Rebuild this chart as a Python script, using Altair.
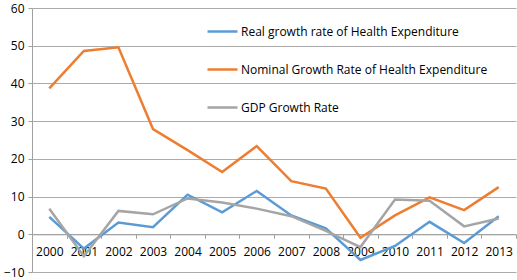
import altair as alt
import pandas as pd

years = [str(y) for y in range(2000, 2014)]
real = [4.6, -3.8, 3.1, 1.9, 10.5, 5.8, 11.5, 5.0, 1.6, -6.8, -3.1, 3.3, -2.3, 4.8]
nominal = [38.7, 48.6, 49.6, 27.9, 22.3, 16.5, 23.4, 14.1, 12.1, -0.9, 5.0, 9.8, 6.4, 12.5]
gdp = [6.8, -5.8, 6.2, 5.3, 9.5, 8.4, 6.8, 4.8, 0.9, -3.4, 9.2, 8.9, 2.1, 4.2]

series_names = [
    "Real growth rate of Health Expenditure",
    "Nominal Growth Rate of Health Expenditure",
    "GDP Growth Rate",
]
series_colors = ["#5B9BD5", "#ED7D31", "#A5A5A5"]

rows = []
for name, vals in zip(series_names, [real, nominal, gdp]):
    for y, v in zip(years, vals):
        rows.append({"Year": y, "Value": v, "Series": name})
df = pd.DataFrame(rows)

W, H = 484, 264
FONT = "Open Sans"

chart = alt.Chart(df).mark_line(strokeWidth=2.5).encode(
    x=alt.X("Year:N", bandPosition=0.5,
            scale=alt.Scale(type="band", paddingInner=0, paddingOuter=0),
            axis=alt.Axis(title=None, labelAngle=0, offset=-H * 10 / 70,
                          tickBand="extent", tickSize=4, tickColor="#A0A0A0",
                          domainColor="#A0A0A0", labelPadding=8,
                          labelFontSize=12, labelFont=FONT, labelColor="#000000",
                          grid=False)),
    y=alt.Y("Value:Q",
            scale=alt.Scale(domain=[-10, 60], nice=False),
            axis=alt.Axis(title=None, values=list(range(-10, 70, 10)),
                          tickSize=4, tickColor="#A0A0A0", domainColor="#A0A0A0",
                          gridColor="#ABABAB", labelPadding=4,
                          labelFontSize=12, labelFont=FONT, labelColor="#000000")),
    color=alt.Color("Series:N",
                    scale=alt.Scale(domain=series_names, range=series_colors),
                    legend=alt.Legend(title=None, orient="none", legendX=174, legendY=7,
                                      symbolType="stroke", symbolSize=900,
                                      symbolStrokeWidth=2.5, rowPadding=15,
                                      labelOffset=2, labelFontSize=12, labelFont=FONT,
                                      labelColor="#000000", labelLimit=400)),
    order=alt.Order("Year:N"),
).properties(
    width=W, height=H,
    autosize=alt.AutoSizeParams(type="none"),
    padding={"left": 32, "top": 8, "right": 1, "bottom": 8},
).configure_view(stroke=None)

chart.save("out.html", embed_options={"renderer": "svg", "actions": False})
